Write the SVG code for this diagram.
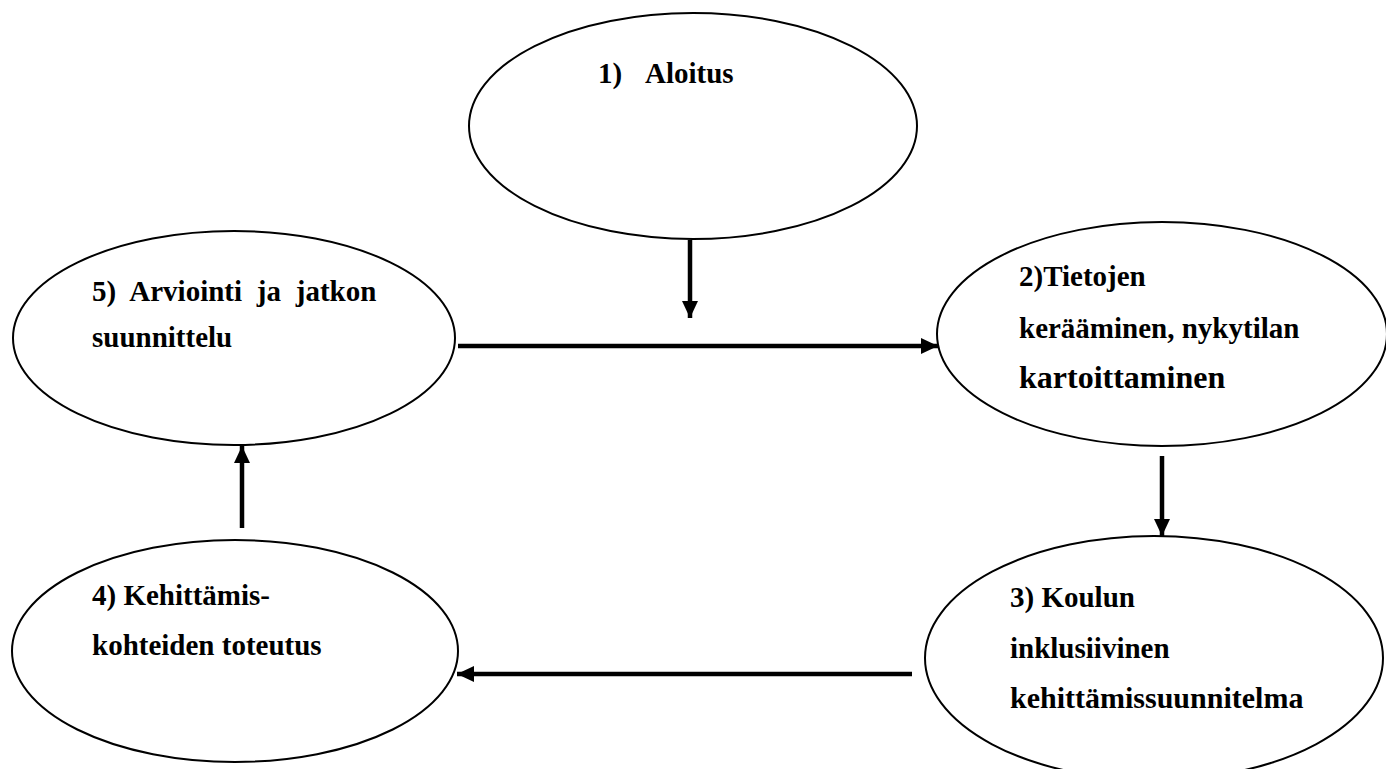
<svg xmlns="http://www.w3.org/2000/svg" width="1386" height="769" viewBox="0 0 1386 769">
<style>
.node ellipse{fill:#fff;stroke:#000;stroke-width:2}
.lbl{font-family:"Liberation Serif","Times New Roman","DejaVu Serif",serif;font-weight:bold;font-size:29px;fill:#000}
.conn line{stroke:#000;stroke-width:4.5}
</style>
<defs>
<marker id="ah" markerWidth="17" markerHeight="16" refX="17" refY="8" orient="auto" markerUnits="userSpaceOnUse">
<path d="M0,0 L17,8 L0,16 Z" fill="#000"/>
</marker>
</defs>
<rect width="1386" height="769" fill="#fff"/>
<g id="n1" class="node">
<ellipse cx="693" cy="126" rx="224" ry="113"/>
<text class="lbl" font-family="Liberation Serif, serif" y="83"><tspan x="598">1)</tspan><tspan x="645">Aloitus</tspan></text>
</g>
<g id="n2" class="node">
<ellipse cx="1162" cy="334" rx="225" ry="112"/>
<text class="lbl" font-family="Liberation Serif, serif" x="1019" y="286">2)Tietojen</text>
<text class="lbl" font-family="Liberation Serif, serif" x="1019" y="338">kerääminen, nykytilan</text>
<text class="lbl" font-family="Liberation Serif, serif" x="1019" y="388" style="font-size:32px">kartoittaminen</text>
</g>
<g id="n3" class="node">
<ellipse cx="1154" cy="658" rx="229" ry="122"/>
<text class="lbl" font-family="Liberation Serif, serif" x="1010" y="607">3) Koulun</text>
<text class="lbl" font-family="Liberation Serif, serif" x="1010" y="658">inklusiivinen</text>
<text class="lbl" font-family="Liberation Serif, serif" x="1010" y="708" style="font-size:30px">kehittämissuunnitelma</text>
</g>
<g id="n4" class="node">
<ellipse cx="235" cy="651" rx="223" ry="111"/>
<text class="lbl" font-family="Liberation Serif, serif" x="92" y="605">4) Kehittämis-</text>
<text class="lbl" font-family="Liberation Serif, serif" x="92" y="655">kohteiden toteutus</text>
</g>
<g id="n5" class="node">
<ellipse cx="234" cy="338" rx="221" ry="107"/>
<text class="lbl" font-family="Liberation Serif, serif" x="92" y="301" word-spacing="7.5">5) Arviointi ja jatkon</text>
<text class="lbl" font-family="Liberation Serif, serif" x="92" y="347">suunnittelu</text>
</g>
<g id="connectors" class="conn">
<line x1="690" y1="240" x2="690" y2="318" marker-end="url(#ah)"/>
<line x1="458" y1="346" x2="938" y2="346" marker-end="url(#ah)"/>
<line x1="1162" y1="456" x2="1162" y2="536" marker-end="url(#ah)"/>
<line x1="912" y1="674" x2="457" y2="674" marker-end="url(#ah)"/>
<line x1="242" y1="528" x2="242" y2="446" marker-end="url(#ah)"/>
</g>
</svg>
